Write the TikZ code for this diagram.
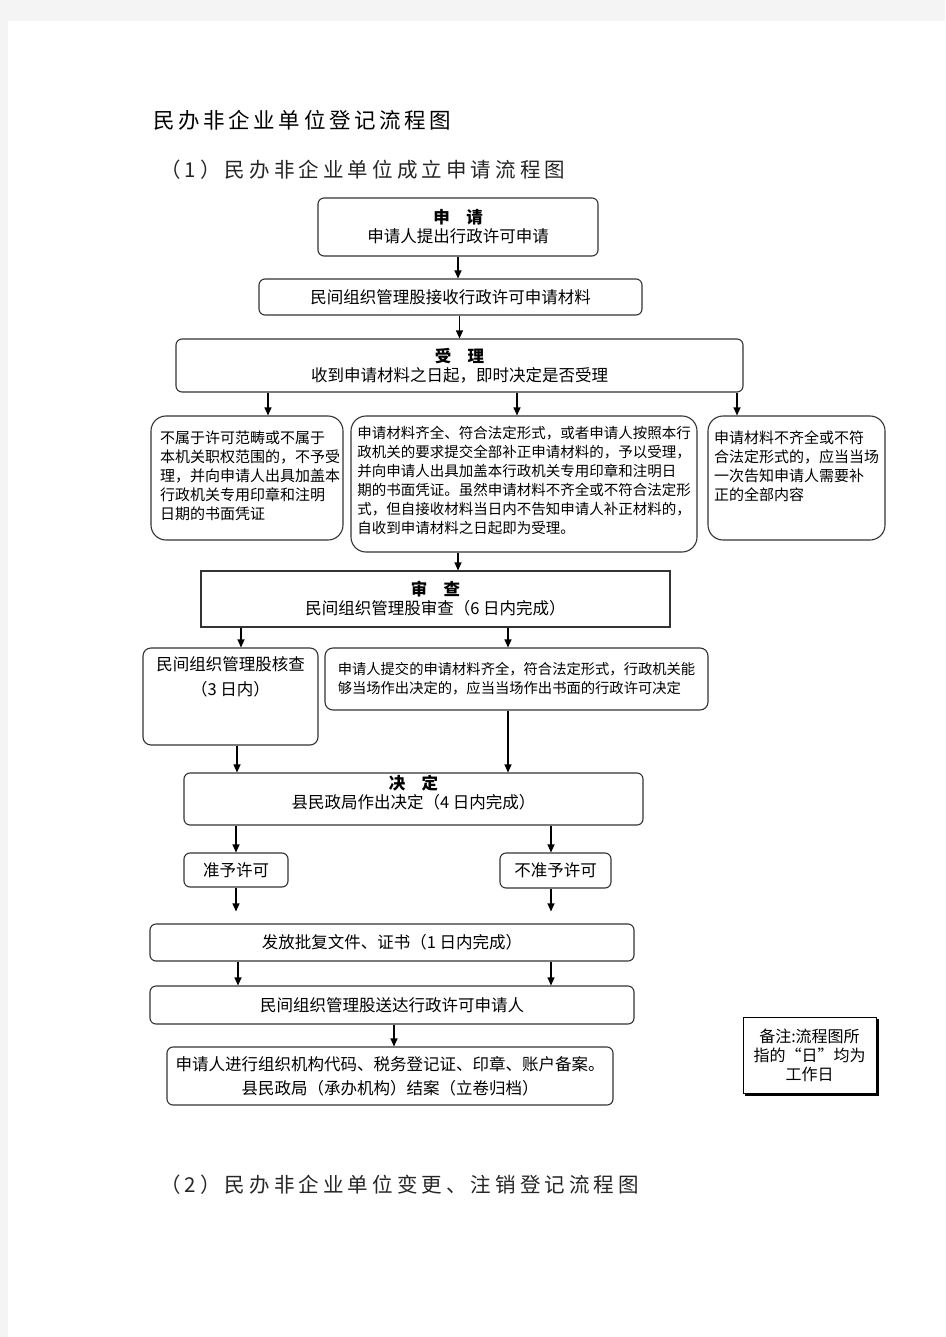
\documentclass[tikz,border=0pt]{standalone}
\usepackage{fontspec}
\setmainfont{Noto Sans CJK SC}
\newfontfamily\titlefont[LetterSpace=20]{Noto Sans CJK SC}
\newfontfamily\bigtitlefont[LetterSpace=17]{Noto Sans CJK SC}
\usepackage{xcolor}
\usepackage{tikz}
\usetikzlibrary{arrows.meta,positioning,calc}

\definecolor{pagegray}{HTML}{F4F4F4}
\definecolor{boxline}{HTML}{333333}

\begin{document}
\begin{tikzpicture}[
    x=1pt, y=-1pt,
    box/.style={rectangle, draw=boxline, line width=1.1pt, inner sep=0pt,
        align=center, font=\fontsize{16.5}{19}\selectfont},
    rbox/.style={box, rounded corners=6pt},
    bigbox/.style={box, rounded corners=15pt},
    toptext/.style={anchor=north, align=left, inner sep=0pt},
    arrow/.style={-{Triangle[length=8pt,width=7pt]}, line width=1.1pt},
    heading/.style={anchor=west, inner sep=0pt, font=\titlefont\fontsize{20.5}{24}\selectfont}
]
    % page
    \fill[pagegray] (0,0) rectangle (945,1337);
    \fill[white] (8,21) rectangle (945,1337);

    \node[heading, font=\bigtitlefont\fontsize{21.5}{24}\selectfont] (title) at (153,120) {民办非企业单位登记流程图};
    \node[heading, text=black!85] (part1) at (160,170) {（1）民办非企业单位成立申请流程图};
    \node[heading, text=black!85] (part2) at (160,1185) {（2）民办非企业单位变更、注销登记流程图};

    % main flow
    \node[rbox, minimum width=280pt, minimum height=58pt] (apply) at (458,227)
        {{\bfseries 申\quad 请}\\申请人提出行政许可申请};
    \node[rbox, minimum width=383pt, minimum height=36pt] (receive) at (450.5,297)
        {民间组织管理股接收行政许可申请材料};
    \node[rbox, minimum width=567pt, minimum height=53pt] (accept) at (459.5,365.5)
        {{\bfseries 受\quad 理}\\收到申请材料之日起，即时决定是否受理};

    % three outcomes of acceptance
    \node[bigbox, minimum width=192pt, minimum height=124pt,
        label={[toptext, font=\fontsize{15}{19}\selectfont, yshift=-15pt, xshift=3pt]north:不属于许可范畴或不属于\\本机关职权范围的，不予受\\理，并向申请人出具加盖本\\行政机关专用印章和注明\\日期的书面凭证}] (refuse) at (247,478) {};
    \node[bigbox, minimum width=346pt, minimum height=136pt,
        label={[toptext, font=\fontsize{14.5}{19}\selectfont, yshift=-11pt]north:申请材料齐全、符合法定形式，或者申请人按照本行\\政机关的要求提交全部补正申请材料的，予以受理，\\并向申请人出具加盖本行政机关专用印章和注明日\\期的书面凭证。虽然申请材料不齐全或不符合法定形\\式，但自接收材料当日内不告知申请人补正材料的，\\自收到申请材料之日起即为受理。}] (ok) at (524,484) {};
    \node[bigbox, minimum width=177pt, minimum height=124pt,
        label={[toptext, font=\fontsize{15}{19}\selectfont, yshift=-15pt]north:申请材料不齐全或不符\\合法定形式的，应当当场\\一次告知申请人需要补\\正的全部内容}] (amend) at (796.5,478) {};

    % review
    \node[box, minimum width=469pt, minimum height=56pt] (review) at (435.5,599)
        {{\bfseries 审\quad 查}\\民间组织管理股审查（6 日内完成）};
    \node[rbox, rounded corners=8pt, minimum width=175pt, minimum height=97pt,
        label={[toptext, align=center, font=\fontsize{16.5}{25}\selectfont, yshift=-9pt]north:民间组织管理股核查\\（3 日内）}] (check) at (230.5,696.5) {};
    \node[rbox, rounded corners=8pt, minimum width=383pt, minimum height=62pt,
        font=\fontsize{14.3}{19}\selectfont, align=left] (spot) at (516.5,679)
        {申请人提交的申请材料齐全，符合法定形式，行政机关能\\够当场作出决定的，应当当场作出书面的行政许可决定};

    % decision
    \node[rbox, minimum width=459pt, minimum height=52pt] (decide) at (413.5,799)
        {{\bfseries 决\quad 定}\\县民政局作出决定（4 日内完成）\\[-4pt]};
    \node[rbox, minimum width=104pt, minimum height=34pt] (grant) at (236,870) {准予许可};
    \node[rbox, minimum width=111pt, minimum height=35pt] (deny) at (555.5,870.5) {不准予许可};

    % issue and close
    \node[rbox, minimum width=484pt, minimum height=37pt] (issue) at (392,942.5)
        {发放批复文件、证书（1 日内完成）};
    \node[rbox, minimum width=484pt, minimum height=38pt] (deliver) at (392,1005)
        {民间组织管理股送达行政许可申请人};
    \node[rbox, minimum width=446pt, minimum height=58pt,
        font=\fontsize{16.5}{24}\selectfont] (finish) at (390,1076)
        {申请人进行组织机构代码、税务登记证、印章、账户备案。\\县民政局（承办机构）结案（立卷归档）};

    % note
    \node[box, draw=black, line width=1pt, minimum width=133pt, minimum height=76pt,
        font=\fontsize{16}{19}\selectfont] (note) at (809.5,1055)
        {备注:流程图所\\指的“日”均为\\工作日};
    \draw[line width=2pt] ([xshift=1pt,yshift=-2pt]note.north east) -- ([xshift=1pt,yshift=-1pt]note.south east)
        -- ([xshift=2pt,yshift=-1pt]note.south west);

    % connectors
    \draw[arrow] (apply.south) -- (apply.south |- receive.north);
    \draw[arrow] (receive.south -| accept.north) -- (accept.north);
    \draw[arrow] ([xshift=21pt]refuse.north |- accept.south) -- ([xshift=21pt]refuse.north);
    \draw[arrow] ([xshift=-7pt]ok.north |- accept.south) -- ([xshift=-7pt]ok.north);
    \draw[arrow] ([xshift=-59.5pt]amend.north |- accept.south) -- ([xshift=-59.5pt]amend.north);
    \draw[arrow] ([xshift=-66pt]ok.south) -- ([xshift=-66pt]ok.south |- review.north);
    \draw[arrow] ([xshift=10.5pt]check.north |- review.south) -- ([xshift=10.5pt]check.north);
    \draw[arrow] ([xshift=-8.5pt]spot.north |- review.south) -- ([xshift=-8.5pt]spot.north);
    \draw[arrow] ([xshift=6.5pt]check.south) -- ([xshift=6.5pt]check.south |- decide.north);
    \draw[arrow] ([xshift=-8.5pt]spot.south) -- ([xshift=-8.5pt]spot.south |- decide.north);
    \draw[arrow] (grant.north |- decide.south) -- (grant.north);
    \draw[arrow] ([xshift=-4.5pt]deny.north |- decide.south) -- ([xshift=-4.5pt]deny.north);
    \draw[arrow, shorten >=12pt] (grant.south) -- (grant.south |- issue.north);
    \draw[arrow, shorten >=12pt] ([xshift=-4.5pt]deny.south) -- ([xshift=-4.5pt]deny.south |- issue.north);
    \draw[arrow] ([xshift=-154pt]issue.south) -- ([xshift=-154pt]deliver.north);
    \draw[arrow] ([xshift=159pt]issue.south) -- ([xshift=159pt]deliver.north);
    \draw[arrow] ([xshift=4pt]finish.north |- deliver.south) -- ([xshift=4pt]finish.north);
\end{tikzpicture}
\end{document}
